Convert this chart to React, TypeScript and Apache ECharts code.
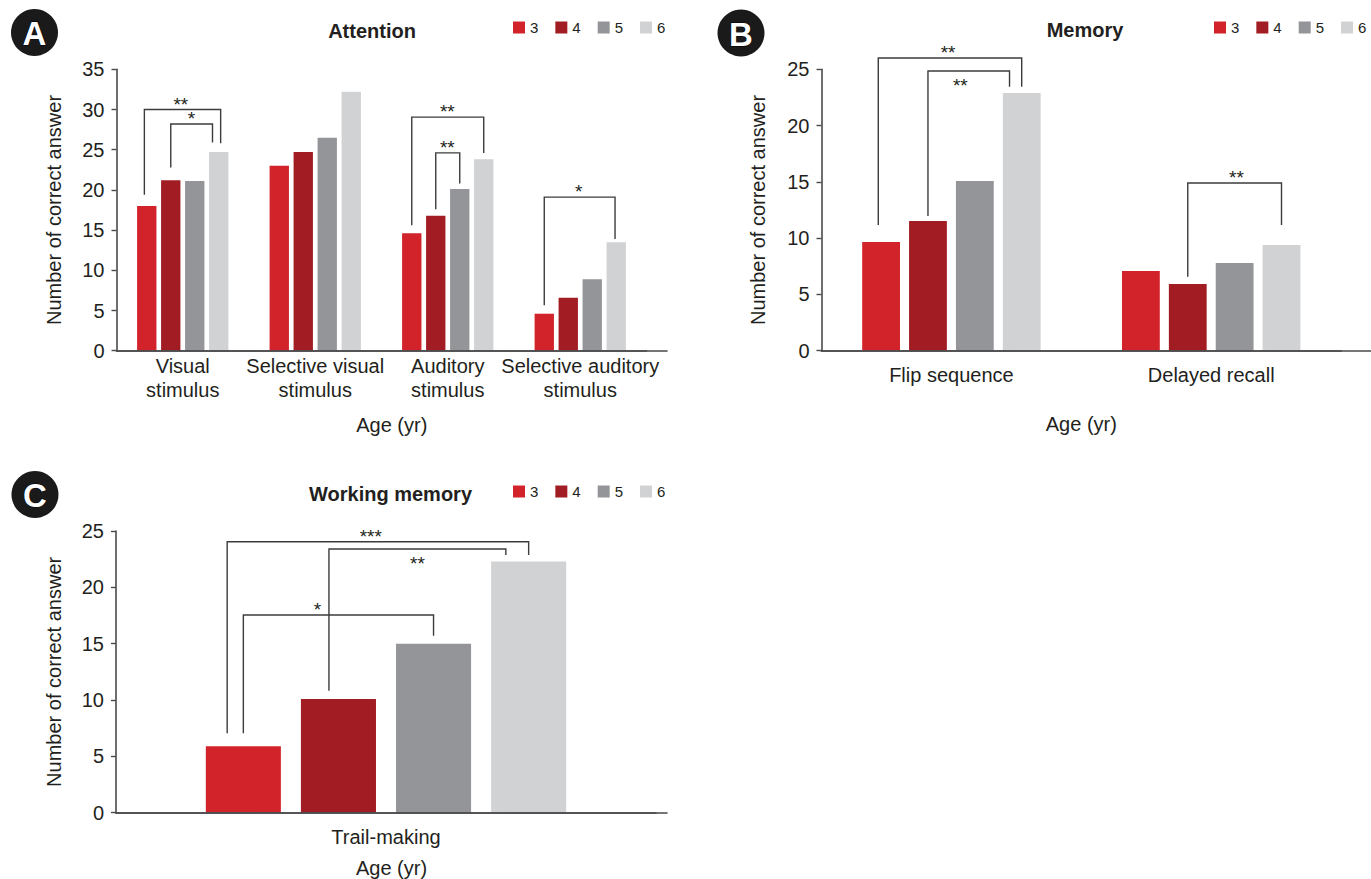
import React, { useEffect, useRef } from 'react';
import * as echarts from 'echarts';

// ---------- data ----------
const ageGroups = ['3', '4', '5', '6'];
const ageColors = ['#d2232a', '#a11c23', '#949599', '#d1d2d4'];

const attentionCategories = [
  'Visual\nstimulus',
  'Selective visual\nstimulus',
  'Auditory\nstimulus',
  'Selective auditory\nstimulus',
];
const attentionAge3 = [18.0, 23.0, 14.6, 4.6];
const attentionAge4 = [21.2, 24.7, 16.8, 6.6];
const attentionAge5 = [21.1, 26.5, 20.1, 8.9];
const attentionAge6 = [24.7, 32.2, 23.8, 13.5];

const memoryCategories = ['Flip sequence', 'Delayed recall'];
const memoryAge3 = [9.66, 7.08];
const memoryAge4 = [11.52, 5.93];
const memoryAge5 = [15.08, 7.79];
const memoryAge6 = [22.9, 9.39];

const workingCategories = ['Trail-making'];
const workingAge3 = [5.9];
const workingAge4 = [10.1];
const workingAge5 = [15.0];
const workingAge6 = [22.3];

const attentionYMax = 35;
const memoryYMax = 25;
const workingYMax = 25;
const yStep = 5;

// significance brackets:
// [category, bracket value, from bar, from-end value, to bar, to-end value, label bar position, label side (1 above, -1 below)]
const attentionBrackets = [
  [0, 30.0, -0.1, 19.4, 3.08, 25.8, 1.42, 1],
  [0, 28.2, 1, 22.8, 2.74, 25.9, 1.86, 1],
  [2, 29.05, 0, 15.6, 3, 24.6, 1.48, 1],
  [2, 24.6, 1, 17.6, 2, 20.8, 1.48, 1],
  [3, 19.1, 0, 5.65, 2.95, 13.9, 1.44, 1],
];
const attentionMarks = ['**', '*', '**', '**', '*'];

const memoryBrackets = [
  [0, 26.0, -0.06, 11.17, 3, 23.45, 1.43, 1],
  [0, 24.85, 1, 11.97, 2.74, 23.45, 1.69, -1],
  [1, 14.9, 1, 6.57, 3, 11.17, 2.04, 1],
];
const memoryMarks = ['**', '**', '**'];

const workingBrackets = [
  [0, 24.05, -0.17, 7.05, 3.0, 22.87, 1.34, 1],
  [0, 23.4, 0.9, 10.83, 2.76, 22.87, 1.83, -1],
  [0, 17.54, 0, 7.05, 2, 15.7, 0.78, 1],
];
const workingMarks = ['***', '**', '*'];

// ---------- styling ----------
const FONT = '"Liberation Sans", Arial, Helvetica, sans-serif';
const TEXT = '#231f20';
const AXIS = '#4a4a4c';

function barSeries(gridIdx: number, values: number[][], widthPct: number, gapPct: number) {
  return values.map((vals, i) => ({
    type: 'bar',
    name: ageGroups[i],
    xAxisIndex: gridIdx,
    yAxisIndex: gridIdx,
    data: vals,
    barWidth: widthPct + '%',
    barGap: gapPct + '%',
    itemStyle: { color: ageColors[i] },
    silent: true,
    z: 2,
  }));
}

function bracketSeries(gridIdx: number, rows: number[][], marks: string[], widthPct: number, gapPct: number) {
  return {
    type: 'custom',
    name: 'significance',
    xAxisIndex: gridIdx,
    yAxisIndex: gridIdx,
    data: rows,
    encode: { x: 0, y: 1 },
    silent: true,
    clip: false,
    z: 5,
    renderItem: (params: any, api: any) => {
      const cat = api.value(0);
      const band = api.size([1, 0])[0];
      const cx = api.coord([cat, 0])[0];
      const bw = (band * widthPct) / 100;
      const step = bw * (1 + gapPct / 100);
      const sx = (s: number) => cx + (s - 1.5) * step;
      const sy = (v: number) => api.coord([cat, v])[1];
      const yl = sy(api.value(1));
      const xl = sx(api.value(2));
      const xr = sx(api.value(4));
      const side = api.value(7);
      const ly = side > 0 ? yl - 5.5 : yl + 14.5;
      return {
        type: 'group',
        children: [
          {
            type: 'polyline',
            shape: {
              points: [
                [xl, sy(api.value(3))],
                [xl, yl],
                [xr, yl],
                [xr, sy(api.value(5))],
              ],
            },
            style: { fill: 'none', stroke: '#3c3c3e', lineWidth: 1.4 },
          },
          {
            type: 'text',
            x: sx(api.value(6)),
            y: ly,
            style: {
              text: marks[params.dataIndex],
              fill: TEXT,
              fontSize: 19,
              fontFamily: FONT,
              align: 'center',
              verticalAlign: 'middle',
            },
          },
        ],
      };
    },
  };
}

function categoryAxis(gridIdx: number, data: string[], margin: number, name?: string, nameGap?: number) {
  return {
    type: 'category',
    gridIndex: gridIdx,
    data,
    z: 3,
    axisLine: { show: true, lineStyle: { color: AXIS, width: 1.6 } },
    axisTick: { show: false },
    axisLabel: { interval: 0, fontSize: 20, lineHeight: 24, margin, color: TEXT, fontFamily: FONT },
    splitLine: { show: false },
    name: name || '',
    nameLocation: 'middle',
    nameGap: nameGap || 0,
    nameTextStyle: { fontSize: 20, lineHeight: 24, color: TEXT, fontFamily: FONT },
  };
}

function extAxis(gridIdx: number, name: string, nameGap: number) {
  return {
    type: 'value',
    gridIndex: gridIdx,
    min: 0,
    max: 1,
    z: 3,
    axisLine: { show: true, lineStyle: { color: AXIS, width: 1.6 } },
    axisTick: { show: false },
    axisLabel: { show: false },
    splitLine: { show: false },
    name,
    nameLocation: 'middle',
    nameGap,
    nameTextStyle: { fontSize: 20, lineHeight: 24, color: TEXT, fontFamily: FONT },
  };
}

function valueAxis(gridIdx: number, max: number, nameGap: number) {
  return {
    type: 'value',
    gridIndex: gridIdx,
    min: 0,
    max,
    interval: yStep,
    z: 3,
    axisLine: { show: true, lineStyle: { color: AXIS, width: 1.6 } },
    axisTick: { show: true, length: 5, lineStyle: { color: AXIS, width: 1.4 } },
    axisLabel: { fontSize: 20, color: TEXT, margin: 12, fontFamily: FONT },
    splitLine: { show: false },
    name: 'Number of correct answer',
    nameLocation: 'middle',
    nameRotate: 90,
    nameGap,
    nameTextStyle: { fontSize: 20, lineHeight: 24, color: TEXT, fontFamily: FONT },
  };
}

function legend(left: number, top: number) {
  return {
    left,
    top,
    padding: 0,
    data: ageGroups,
    icon: 'rect',
    itemWidth: 12,
    itemHeight: 12,
    itemGap: 17,
    selectedMode: false,
    textStyle: { fontSize: 15, color: TEXT, fontFamily: FONT },
  };
}

function badge(cx: number, cy: number, letter: string) {
  return {
    type: 'group',
    children: [
      { type: 'circle', shape: { cx, cy, r: 23.5 }, style: { fill: '#1a1a1a' } },
      {
        type: 'text',
        x: cx,
        y: cy + 1,
        style: {
          text: letter,
          fill: '#ffffff',
          stroke: '#000000',
          lineWidth: 1,
          fontSize: 33,
          fontWeight: 'bold',
          fontFamily: FONT,
          align: 'center',
          verticalAlign: 'middle',
        },
      },
    ],
  };
}

function titleText(x: number, y: number, text: string) {
  return {
    type: 'text',
    x,
    y,
    style: {
      text,
      fill: TEXT,
      fontSize: 20,
      fontWeight: 'bold',
      fontFamily: FONT,
      align: 'center',
      verticalAlign: 'middle',
    },
  };
}

export default function App() {
  const ref = useRef<HTMLDivElement>(null);

  useEffect(() => {
    document.body.style.margin = '0';
    if (!ref.current) return;
    const chart = echarts.init(ref.current, null, { renderer: 'svg' });

    const gridBase = { containLabel: false, outerBoundsMode: 'none' };
    const option: any = {
      animation: false,
      backgroundColor: '#ffffff',
      textStyle: { fontFamily: FONT },
      grid: [
        { ...gridBase, left: 116.5, top: 69.3, width: 530, height: 281.4 },
        { ...gridBase, left: 821.5, top: 69.3, width: 519.6, height: 281.4 },
        { ...gridBase, left: 116, top: 531, width: 540, height: 281.7 },
        { ...gridBase, left: 116.5, top: 69.3, width: 550.5, height: 281.4 },
        { ...gridBase, left: 821.5, top: 69.3, width: 549.5, height: 281.4 },
        { ...gridBase, left: 116, top: 531, width: 551, height: 281.7 },
      ],
      xAxis: [
        categoryAxis(0, attentionCategories, 3),
        categoryAxis(1, memoryCategories, 12.5, 'Age (yr)', 61),
        categoryAxis(2, workingCategories, 12.5),
        extAxis(3, 'Age (yr)', 62),
        extAxis(4, '', 0),
        extAxis(5, 'Age (yr)', 43),
      ],
      yAxis: [
        valueAxis(0, attentionYMax, 51),
        valueAxis(1, memoryYMax, 52),
        valueAxis(2, workingYMax, 50),
        { type: 'value', gridIndex: 3, min: 0, max: 1, show: false },
        { type: 'value', gridIndex: 4, min: 0, max: 1, show: false },
        { type: 'value', gridIndex: 5, min: 0, max: 1, show: false },
      ],
      legend: [legend(513, 20), legend(1214, 20), legend(513, 484)],
      graphic: [
        badge(34.5, 32.5, 'A'),
        badge(741, 33, 'B'),
        badge(35, 494.5, 'C'),
        titleText(372, 31, 'Attention'),
        titleText(1085, 29.5, 'Memory'),
        titleText(390.5, 493.5, 'Working memory'),
      ],
      series: [
        ...barSeries(0, [attentionAge3, attentionAge4, attentionAge5, attentionAge6], 14.6, 24),
        ...barSeries(1, [memoryAge3, memoryAge4, memoryAge5, memoryAge6], 14.55, 24),
        ...barSeries(2, [workingAge3, workingAge4, workingAge5, workingAge6], 13.9, 26.7),
        bracketSeries(0, attentionBrackets, attentionMarks, 14.6, 24),
        bracketSeries(1, memoryBrackets, memoryMarks, 14.55, 24),
        bracketSeries(2, workingBrackets, workingMarks, 13.9, 26.7),
      ],
    };

    chart.setOption(option);
    return () => {
      chart.dispose();
    };
  }, []);

  return (
    <div
      ref={ref}
      style={{ position: 'absolute', left: 0, top: 0, width: 1371, height: 879, background: '#fff' }}
    />
  );
}
